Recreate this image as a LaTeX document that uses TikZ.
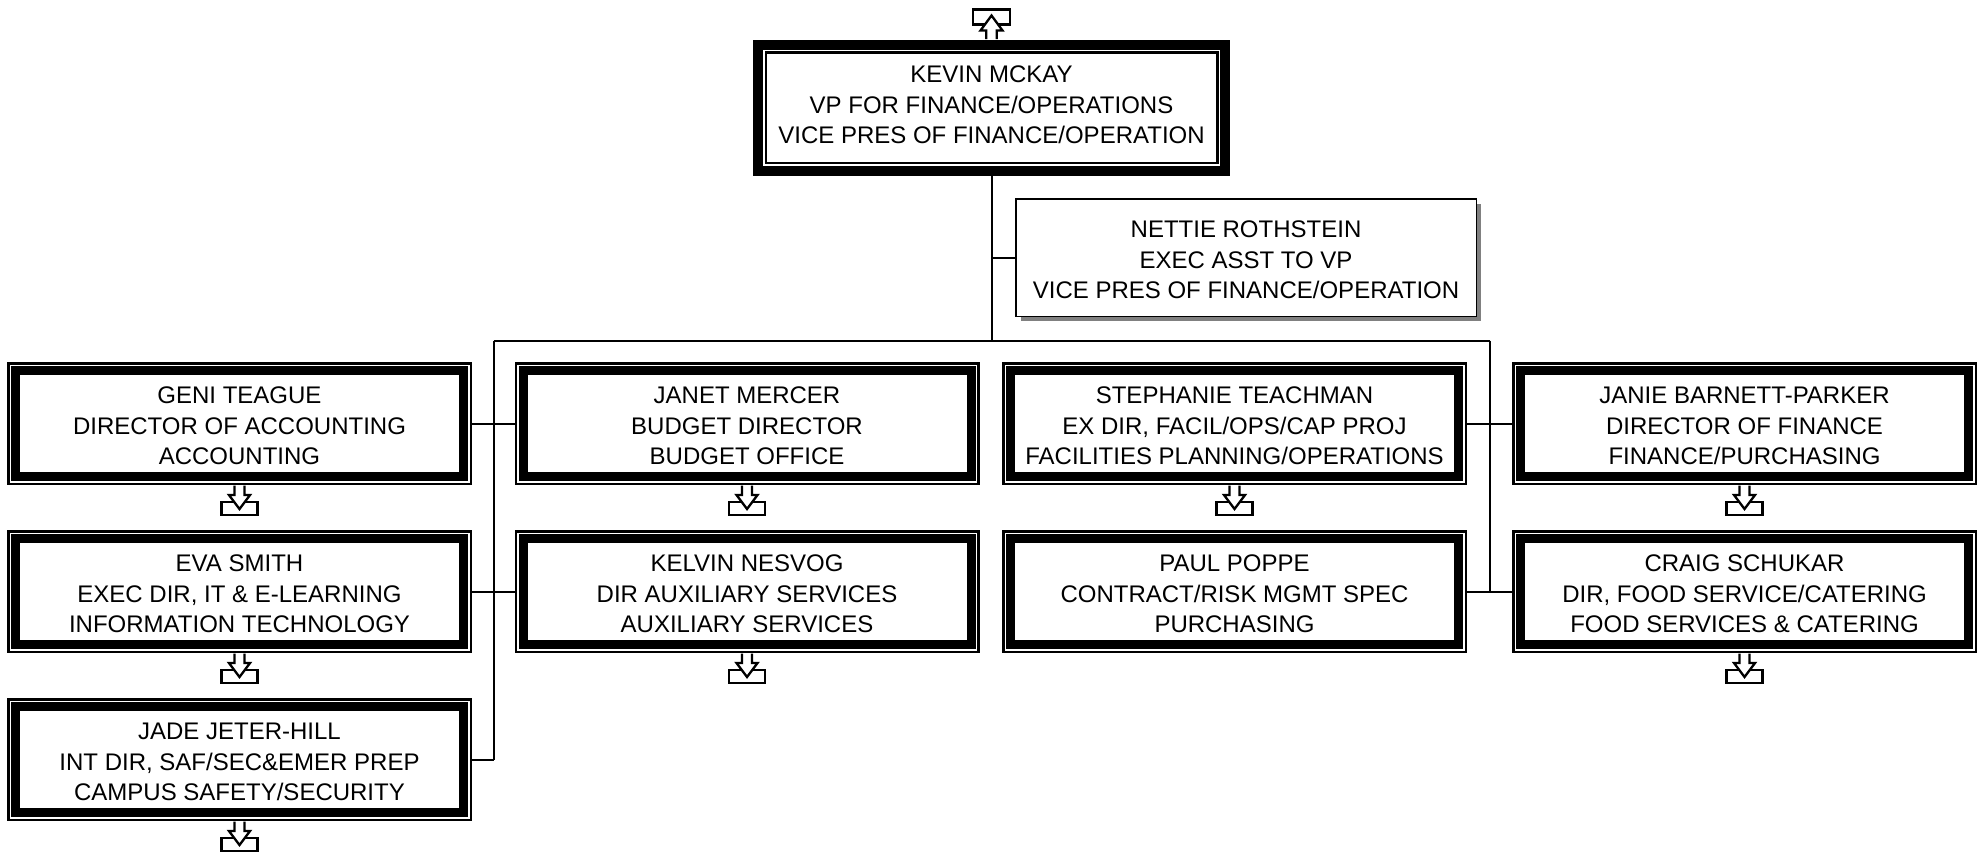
\documentclass[tikz,border=0pt]{standalone}
\usepackage{fontspec}
\setmainfont{Liberation Sans}
\usetikzlibrary{shadows}
\begin{document}
\begin{tikzpicture}[x=1pt,y=-1pt,
  txt/.style={font=\fontsize{24}{30.4}\selectfont, align=center, inner sep=0pt, outer sep=0pt},
  staff/.style={draw, fill=white, line width=2.5pt, minimum width=462.5pt, minimum height=120.5pt, inner sep=0pt, outer sep=0pt},
  band/.style={line width=9pt},
  headbox/.style={draw, fill=white, line width=10pt, minimum width=467pt, minimum height=126pt, inner sep=0pt, outer sep=0pt},
  headinner/.style={line width=2.5pt},
  asst/.style={draw, fill=white, line width=1.5pt, minimum width=460.5pt, minimum height=117.5pt, inner sep=0pt, outer sep=0pt,
    drop shadow={shadow xshift=5pt, shadow yshift=-5pt, fill=black!50, opacity=1}},
  link/.style={line width=2pt},
  iconline/.style={line width=2.3pt, fill=white, draw=black},
  subicon/.pic={
    \filldraw[iconline] (-18,17) rectangle (18,30);
    \filldraw[iconline] (-5,0.5) -- (-5,10) -- (-10.5,10) -- (0,24) -- (10.5,10) -- (5,10) -- (5,0.5);
  },
  upicon/.pic={
    \filldraw[iconline] (-18.5,-30) rectangle (18.5,-15);
    \filldraw[iconline] (-5.3,-0.5) -- (-5.3,-9) -- (-11,-9) -- (0,-24) -- (11,-9) -- (5.3,-9) -- (5.3,-0.5);
  }
]
\fill[white] (0,0) rectangle (1986,852);
\useasboundingbox (0,0) rectangle (1986,852);

\coordinate (bl) at (493.5,340.5);
\coordinate (br) at (1489.5,340.5);
\coordinate (lend) at (493.5,759.5);
\coordinate (rend) at (1489.5,591.5);

% head
\node[headbox] (kevin) at (991.5,107.5) {};
\draw[headinner] ([xshift=7.75pt,yshift=-7.75pt]kevin.north west) rectangle ([xshift=-7.75pt,yshift=7.75pt]kevin.south east);
\node[txt] (kevin-t) at ([yshift=2.5pt]kevin.center) {KEVIN MCKAY\\VP FOR FINANCE/OPERATIONS\\VICE PRES OF FINANCE/OPERATION};

% assistant
\node[asst] (nettie) at (1246,257.5) {};
\node[txt] (nettie-t) at ([yshift=-2.5pt]nettie.center) {NETTIE ROTHSTEIN\\EXEC ASST TO VP\\VICE PRES OF FINANCE/OPERATION};

% staff boxes
\foreach \n/\x/\y in {geni/239.5/423.5, janet/747/423.5, steph/1234.5/423.5, janie/1744.5/423.5,
                      eva/239.5/591.5, kelvin/747/591.5, paul/1234.5/591.5, craig/1744.5/591.5,
                      jade/239.5/759.5}{
  \node[staff] (\n) at (\x,\y) {};
  \draw[band] ([xshift=7.25pt,yshift=-7.25pt]\n.north west) rectangle ([xshift=-7.25pt,yshift=7.25pt]\n.south east);
}
\node[txt] (geni-t) at ([yshift=-2.5pt]geni.center) {GENI TEAGUE\\DIRECTOR OF ACCOUNTING\\ACCOUNTING};
\node[txt] (janet-t) at ([yshift=-2.5pt]janet.center) {JANET MERCER\\BUDGET DIRECTOR\\BUDGET OFFICE};
\node[txt] (steph-t) at ([yshift=-2.5pt]steph.center) {STEPHANIE TEACHMAN\\EX DIR, FACIL/OPS/CAP PROJ\\FACILITIES PLANNING/OPERATIONS};
\node[txt] (janie-t) at ([yshift=-2.5pt]janie.center) {JANIE BARNETT-PARKER\\DIRECTOR OF FINANCE\\FINANCE/PURCHASING};
\node[txt] (eva-t) at ([yshift=-2.5pt]eva.center) {EVA SMITH\\EXEC DIR, IT \& E-LEARNING\\INFORMATION TECHNOLOGY};
\node[txt] (kelvin-t) at ([yshift=-2.5pt]kelvin.center) {KELVIN NESVOG\\DIR AUXILIARY SERVICES\\AUXILIARY SERVICES};
\node[txt] (paul-t) at ([yshift=-2.5pt]paul.center) {PAUL POPPE\\CONTRACT/RISK MGMT SPEC\\PURCHASING};
\node[txt] (craig-t) at ([yshift=-2.5pt]craig.center) {CRAIG SCHUKAR\\DIR, FOOD SERVICE/CATERING\\FOOD SERVICES \& CATERING};
\node[txt] (jade-t) at ([yshift=-2.5pt]jade.center) {JADE JETER-HILL\\INT DIR, SAF/SEC\&EMER PREP\\CAMPUS SAFETY/SECURITY};

% connector lines
\draw[link] (kevin.south) -- (kevin.south |- bl);
\draw[link] (bl) -- (br);
\draw[link] (bl) -- (lend);
\draw[link] (br) -- (rend);
\draw[link] (nettie.west) -- (nettie.west -| kevin.south);
\draw[link] (geni.east) -- (janet.west);
\draw[link] (eva.east) -- (kelvin.west);
\draw[link] (jade.east) -- (lend);
\draw[link] (steph.east) -- (janie.west);
\draw[link] (paul.east) -- (craig.west);

% icons
\pic at ([yshift=5pt]kevin.north) {upicon};
\foreach \n in {geni,janet,steph,janie,eva,kelvin,craig,jade}{
  \pic at ([yshift=-1.25pt]\n.south) {subicon};
}
\end{tikzpicture}
\end{document}
